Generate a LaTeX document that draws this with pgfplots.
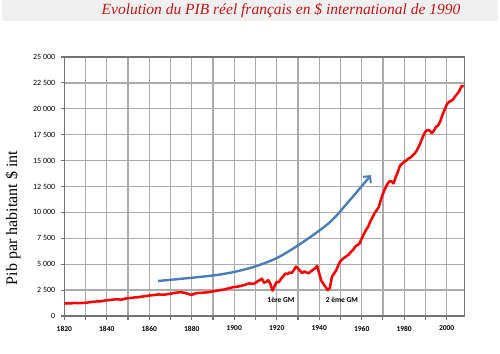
\documentclass[border=0pt]{standalone}
\usepackage{fontspec}
\setmainfont{Liberation Serif}
\newfontfamily\calib{Carlito}
\usepackage{pgfplots}
\pgfplotsset{compat=1.18}
\usetikzlibrary{arrows.meta}
\definecolor{arrowblue}{RGB}{74,126,187}
\definecolor{titlered}{RGB}{200,20,20}
\definecolor{bandgray}{RGB}{240,240,240}
\begin{document}
\begin{tikzpicture}
\path (0,0) rectangle (500pt,353pt);
\fill[bandgray] (2pt,332pt) rectangle (498pt,353pt);
\node[font=\fontsize{15.5}{17}\selectfont\itshape, text=titlered] at (281pt,342pt) {Evolution du PIB réel français en \$ international de 1990};
\node[rotate=90, font=\fontsize{16}{18}\selectfont] at (13pt,135pt) {Pib par habitant \$ int};
\begin{axis}[
  at={(64.3pt,37pt)}, anchor=south west,
  scale only axis, width=400pt, height=259pt,
  xmin=1820, xmax=2008.3, ymin=0, ymax=25000,
  xtick={1820,1840,1860,1880,1900,1920,1940,1960,1980,2000},
  xticklabels={1820,1840,1860,1880,1900,1920,1940,1960,1980,2000},
  minor xtick={1830,1850,1870,1890,1910,1930,1950,1970,1990},
  ytick={0,2500,5000,7500,10000,12500,15000,17500,20000,22500,25000},
  yticklabels={0,2 500,5 000,7 500,10 000,12 500,15 000,17 500,20 000,22 500,25 000},
  scaled y ticks=false, scaled x ticks=false,
  x tick label style={font=\calib\bfseries\fontsize{7.5}{9}\selectfont, yshift=-3pt},
  y tick label style={font=\calib\fontsize{8}{9}\selectfont, xshift=-2pt},
  grid=both,
  major grid style={black!33, line width=1.3pt},
  minor grid style={black!33, line width=1.3pt},
  axis line style={black!55, line width=1.3pt},
  tick align=outside,
  major tick length=3.5pt, minor tick length=3.5pt,
  tick style={black!55, line width=1.1pt},
  xtick pos=left, ytick pos=left,
]
\addplot[red, line width=2.5pt, line join=round] coordinates {
(1820,1200) (1821,1215) (1822,1230) (1823,1220) (1824,1250) (1825,1260) (1826,1245) (1827,1240) (1828,1250) (1829,1270)
(1830,1280) (1831,1300) (1832,1330) (1833,1360) (1834,1380) (1835,1400) (1836,1420) (1837,1410) (1838,1450) (1839,1490)
(1840,1520) (1841,1540) (1842,1560) (1843,1580) (1844,1610) (1845,1620) (1846,1590) (1847,1580) (1848,1640) (1849,1690)
(1850,1720) (1851,1740) (1852,1760) (1853,1790) (1854,1800) (1855,1820) (1856,1860) (1857,1880) (1858,1920) (1859,1950)
(1860,1980) (1861,1990) (1862,2020) (1863,2050) (1864,2070) (1865,2080) (1866,2060) (1867,2050) (1868,2090) (1869,2120)
(1870,2150) (1871,2190) (1872,2230) (1873,2260) (1874,2280) (1875,2300) (1876,2260) (1877,2220) (1878,2150) (1879,2080)
(1880,2050) (1881,2130) (1882,2200) (1883,2220) (1884,2230) (1885,2250) (1886,2260) (1887,2280) (1888,2300) (1889,2340)
(1890,2380) (1891,2410) (1892,2450) (1893,2480) (1894,2520) (1895,2550) (1896,2600) (1897,2650) (1898,2700) (1899,2760)
(1900,2800) (1901,2820) (1902,2850) (1903,2900) (1904,2950) (1905,3000) (1906,3080) (1907,3150) (1908,3120) (1909,3100)
(1910,3200) (1911,3350) (1912,3450) (1913,3600) (1914,3200) (1915,3300) (1916,3450) (1917,3100) (1918,2450) (1919,2900)
(1920,3300) (1921,3250) (1922,3600) (1923,3800) (1924,4100) (1925,4050) (1926,4200) (1927,4150) (1928,4400) (1929,4760)
(1930,4600) (1931,4350) (1932,4150) (1933,4300) (1934,4200) (1935,4120) (1936,4300) (1937,4450) (1938,4600) (1939,4830)
(1940,4100) (1941,3400) (1942,3100) (1943,2800) (1944,2500) (1945,2700) (1946,3800) (1947,4100) (1948,4400) (1949,4900)
(1950,5300) (1951,5500) (1952,5650) (1953,5800) (1954,5950) (1955,6200) (1956,6400) (1957,6700) (1958,6850) (1959,7000)
(1960,7500) (1961,7900) (1962,8300) (1963,8600) (1964,9100) (1965,9500) (1966,9900) (1967,10200) (1968,10500) (1969,11200)
(1970,11800) (1971,12300) (1972,12700) (1973,13000) (1974,13000) (1975,12800) (1976,13400) (1977,13900) (1978,14500) (1979,14700)
(1980,14900) (1981,15000) (1982,15200) (1983,15300) (1984,15500) (1985,15700) (1986,16000) (1987,16400) (1988,16900) (1989,17400)
(1990,17800) (1991,17950) (1992,17900) (1993,17650) (1994,17900) (1995,18250) (1996,18400) (1997,18800) (1998,19400) (1999,19900)
(2000,20400) (2001,20650) (2002,20750) (2003,20900) (2004,21200) (2005,21450) (2006,21750) (2007,22200) (2008,22150)
};
\addplot[arrowblue, line width=2.4pt, smooth, -{Straight Barb[length=5pt,width=10pt,line width=2pt]}] coordinates {
(1864.1,3380) (1891.9,3960) (1907.4,4630) (1920.1,5600) (1932.4,7140) (1945.1,9070) (1954.5,11200) (1964.4,13600)
};
\node[font=\calib\bfseries\fontsize{7.5}{9}\selectfont] at (axis cs:1922,1545) {1ère GM};
\node[font=\calib\bfseries\fontsize{7.5}{9}\selectfont] at (axis cs:1950.7,1545) {2 ème GM};
\end{axis}
\end{tikzpicture}
\end{document}
